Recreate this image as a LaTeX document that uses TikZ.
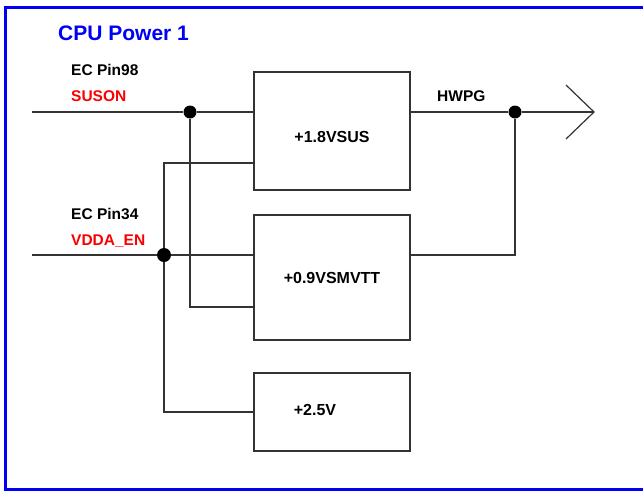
\documentclass[tikz,border=0pt]{standalone}
\usepackage{fontspec}
\setmainfont{Liberation Sans}
\usetikzlibrary{positioning}
\definecolor{frameblue}{RGB}{0,0,245}
\definecolor{signalred}{RGB}{250,0,0}
\tikzset{
  regbox/.style={rectangle, draw=black!80, line width=1.2pt, minimum width=156pt, inner sep=0pt,
    font=\fontsize{16}{18}\selectfont\bfseries},
  junction/.style={circle, fill=black, inner sep=0pt, minimum size=13pt},
  wire/.style={draw=black!80, line width=1.2pt},
  pinlabel/.style={anchor=base west, inner sep=0pt, font=\fontsize{15.5}{17}\selectfont\bfseries},
  netlabel/.style={pinlabel, text=signalred}
}
\begin{document}
\begin{tikzpicture}[x=1pt, y=-1pt]
  \useasboundingbox (0,0) rectangle (643,491);
  \draw[frameblue, line width=3pt] (5.5,7.5) rectangle (650,489);

  % title and pin labels
  \node[pinlabel, text=frameblue, font=\fontsize{21}{23}\selectfont\bfseries] (title) at (58,40) {CPU Power 1};
  \node[pinlabel] (pin98) at (71,75) {EC Pin98};
  \node[netlabel] (suson) at (71,101) {SUSON};
  \node[pinlabel] (pin34) at (71,219) {EC Pin34};
  \node[netlabel] (vddaen) at (71,245) {VDDA\_EN};

  % regulators
  \node[regbox, minimum height=118pt, text height=23pt, text depth=0pt] (vsus) at (332,131) {+1.8VSUS};
  \node[regbox, minimum height=125pt] (vsmvtt) at (332,277.5) {+0.9VSMVTT};
  \node[regbox, minimum height=78pt,
        label={[xshift=-17pt, yshift=2pt, font=\fontsize{16}{18}\selectfont\bfseries]center:+2.5V}] (vtwo) at (332,412) {};

  % junctions
  \node[junction] (jsus) at (190,112) {};
  \node[junction, minimum width=12pt, minimum height=14pt] (jvdda) at (164,255) {};
  \node[junction] (jpg) at (515,112) {};
  \node[pinlabel] (hwpg) at (437,101) {HWPG};

  \coordinate (susin) at (32,112);
  \coordinate (vddain) at (32,255);
  \coordinate (sus2vsmvtt) at (254,307);
  \coordinate (vdda2vsus) at (254,163);
  \coordinate (pgtip) at (594,112);

  \draw[wire] (susin) -- (jsus) -- (jsus -| vsus.west);
  \draw[wire] (jsus) |- (sus2vsmvtt);
  \draw[wire] (vddain) -- (jvdda) -- (jvdda -| vsmvtt.west);
  \draw[wire] (jvdda) |- (vdda2vsus);
  \draw[wire] (jvdda) |- (vtwo.west);
  \draw[wire] (jsus -| vsus.east) -- (jpg) -- (pgtip);
  \draw[wire] (jvdda -| vsmvtt.east) -| (jpg);
  \draw[wire] (pgtip) ++(-28,-27) -- (pgtip) -- ++(-28,27);
\end{tikzpicture}
\end{document}
